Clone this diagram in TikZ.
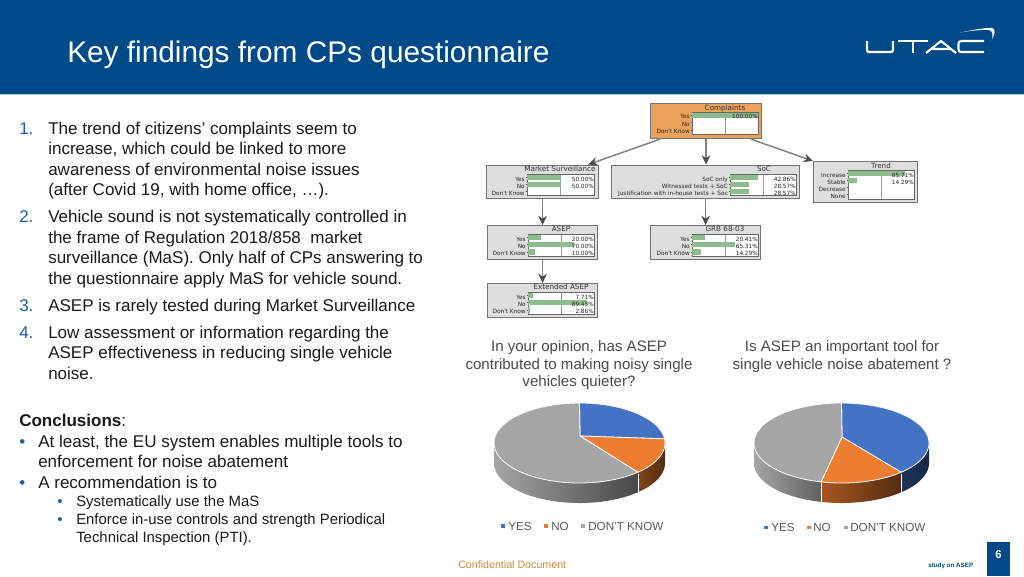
\documentclass[tikz,border=0pt]{standalone}
\usepackage{fontspec}
\setmainfont{Liberation Sans}
\newfontfamily\chartfont{DejaVu Sans}
\usetikzlibrary{arrows.meta,calc}
\definecolor{utacblue}{HTML}{004B87}
\definecolor{numblue}{HTML}{1F5F9E}
\definecolor{bodyink}{HTML}{1A1A1A}
\definecolor{qink}{HTML}{4A4A4A}
\definecolor{legink}{HTML}{595959}
\definecolor{barg}{HTML}{8FBC8F}
\definecolor{boxg}{HTML}{DEDEDE}
\definecolor{boxo}{HTML}{EBA35B}
\definecolor{confink}{HTML}{C98B3C}
\definecolor{pieb}{HTML}{4472C4}
\definecolor{pieo}{HTML}{ED7D31}
\definecolor{pieg}{HTML}{A5A5A5}
\definecolor{hline}{HTML}{A9C7DE}
\tikzset{
  x=0.75pt,y=-0.75pt,
  bl/.style={anchor=base west,text=bodyink,inner sep=0pt,font=\fontsize{12.77}{15}\selectfont},
  nm/.style={anchor=base west,text=numblue,inner sep=0pt,font=\fontsize{12.77}{15}\selectfont},
  bs/.style={anchor=base west,text=bodyink,inner sep=0pt,font=\fontsize{11.18}{13}\selectfont},
  qt/.style={anchor=base,text=qink,inner sep=0pt,font=\fontsize{11.3}{13}\selectfont},
  lg/.style={anchor=base west,text=legink,inner sep=0pt,font=\fontsize{8.75}{11}\selectfont},
  bnbox/.style={draw=black!55,line width=0.9pt,fill=boxg,rectangle,inner sep=0pt,anchor=north west},
  bnttl/.style={inner sep=0pt,anchor=base,font=\chartfont\fontsize{5.4}{6}\selectfont,text=black!80},
  bnlab/.style={inner sep=0pt,anchor=mid east,font=\chartfont\fontsize{4.35}{5}\selectfont,text=black!85},
  bnval/.style={inner sep=0pt,anchor=mid east,font=\chartfont\fontsize{4.3}{5}\selectfont,text=black!85},
  conn/.style={draw=black!50,line width=1.1pt,-{Stealth[length=7pt,width=6.5pt,color=black!70]}},
  pietop/.style={draw=white,line width=0.6pt},
}
% #1 name, #2 x, #3 y, #4 w, #5 h, #6 fill
\newcommand{\bnode}[6]{\node[bnbox,fill=#6,minimum width=#4*0.75pt,minimum height=#5*0.75pt] (#1) at (#2,#3) {};}
% plot area: #1 x0, #2 y0, #3 x1, #4 y1
\newcommand{\bnplot}[4]{\fill[white] (#1,#2) rectangle (#3,#4);
  \draw[black!40,line width=0.3pt] ({(#1+#3)/2},#2) -- ({(#1+#3)/2},#4);
  \draw[black!60,line width=0.4pt] (#1,#2) rectangle (#3,#4);}
% row: [#1 bar height], #2 x0, #3 x1, #4 yc, #5 label, #6 pct number (0 none)
\newcommand{\bnrow}[6][5.6]{%
  \fill[barg] (#2,{#4-#1/2}) rectangle ({#2+(#3-#2)*#6/100},{#4+#1/2});
  \node[bnlab] at ({#2-2},#4) {#5};
  \draw[black!70,line width=0.3pt] ({#2-1.5},#4)--(#2,#4);
  \ifdim #6pt>0pt \node[bnval] at (#3,#4) {#6\%}; \fi}
\newcommand{\pieslice}[9]{% fill, cx,cy,rx,ry, ax,ay, a0,a1
  \path[pietop,fill=#1] (#6,#7) -- plot[domain=#8:#9,samples=50] ({#2+#4*cos(\x)},{#3-#5*sin(\x)}) -- cycle;}
\begin{document}
\begin{tikzpicture}
\useasboundingbox (0,0) rectangle (1024,576);
\fill[white] (0,0) rectangle (1024,576);
% header
\fill[utacblue] (0,0) rectangle (1024,94);
\fill[hline] (0,94) rectangle (1024,95.2);
\node[anchor=base west,inner sep=0pt,text=white,font=\fontsize{22.36}{25}\selectfont] (title) at (67,62.5) {Key findings from CPs questionnaire};
% logo
\begin{scope}[draw=white,line width=1.6pt,line join=round]
\draw (867,41) -- (867,50) .. controls (867,52) and (868,52) .. (869,52) -- (890,52) .. controls (892,52) and (893,52) .. (893,50) -- (893,41);
\draw (898,41) -- (928,41) (913,41) -- (913,53);
\draw (926,53) -- (941,41) -- (956,53) (932,49) -- (950,49);
\draw (984,41) -- (962,41) .. controls (959,41) and (958.5,42) .. (958.5,44) -- (958.5,49) .. controls (958.5,51.5) and (959,52) .. (962,52) -- (984,52);
\end{scope}
\fill[white] (960,32.5) .. controls (975,29.5) and (986,27.5) .. (992,28) .. controls (996,29) and (995,34) .. (992,39) .. controls (993,35) and (993,31) .. (989,30) .. controls (983,29.5) and (972,30.5) .. (960,32.5) -- cycle;
% left text
\node[nm] (n1) at (19,134) {1.};
\node[bl] (t1a) at (48,134) {The trend of citizens’ complaints seem to};
\node[bl] (t1b) at (48,154.5) {increase, which could be linked to more};
\node[bl] (t1c) at (48,175) {awareness of environmental noise issues};
\node[bl] (t1d) at (48,195.5) {(after Covid 19, with home office, …).};
\node[nm] (n2) at (19,222.5) {2.};
\node[bl] (t2a) at (48,222.5) {Vehicle sound is not systematically controlled in};
\node[bl] (t2b) at (48,243) {the frame of Regulation 2018/858\ \ market};
\node[bl] (t2c) at (48,263.5) {surveillance (MaS). Only half of CPs answering to};
\node[bl] (t2d) at (48,284) {the questionnaire apply MaS for vehicle sound.};
\node[nm] (n3) at (19,311) {3.};
\node[bl] (t3a) at (48,311) {ASEP is rarely tested during Market Surveillance};
\node[nm] (n4) at (19,338) {4.};
\node[bl] (t4a) at (48,338) {Low assessment or information regarding the};
\node[bl] (t4b) at (48,358.5) {ASEP effectiveness in reducing single vehicle};
\node[bl] (t4c) at (48,379) {noise.};
\node[bl] (c0) at (19,426.5) {\textbf{Conclusions}:};
\node[nm] (b1) at (19,447) {•};
\node[bl] (c1a) at (38,447) {At least, the EU system enables multiple tools to};
\node[bl] (c1b) at (38,467.5) {enforcement for noise abatement};
\node[nm] (b2) at (19,488) {•};
\node[bl] (c2a) at (38,488) {A recommendation is to};
\node[bs,text=numblue] (b3) at (57,506) {•};
\node[bs] (c3) at (76,506) {Systematically use the MaS};
\node[bs,text=numblue] (b4) at (57,524) {•};
\node[bs] (c4a) at (76,524) {Enforce in-use controls and strength Periodical};
\node[bs] (c4b) at (76,542) {Technical Inspection (PTI).};
% BN boxes
\bnode{complaints}{650}{103}{111}{35}{boxo}
\bnode{market}{486}{164.5}{112}{33.5}{boxg}
\bnode{soc}{611}{164.5}{188}{33.5}{boxg}
\bnode{trend}{813}{161}{104}{41}{boxg}
\bnode{asep}{487}{225}{110}{34}{boxg}
\bnode{grb}{650}{225}{110}{34}{boxg}
\bnode{extasep}{487}{283}{110}{34}{boxg}
% connectors
\draw[conn] ($(complaints.south west)+(10,0)$) -- ($(market.north east)+(-11,0)$);
\draw[conn] (complaints.south) -- (soc.north -| complaints.south);
\draw[conn] ($(complaints.south east)+(-11,0)$) -- ($(trend.north west)+(0,0)$);
\draw[conn] (market.south -| asep.north) -- (asep.north);
\draw[conn] (soc.south -| grb.north) -- (grb.north);
\draw[conn] (asep.south) -- (extasep.north);
% complaints
\node[bnttl] (tc) at (725,110) {Complaints};
\bnplot{692}{112}{758}{134}
\bnrow[5]{692}{758}{115}{Yes}{100.00}
\bnrow[5]{692}{758}{122.5}{No}{0}
\bnrow[5]{692}{758}{130}{Don't Know}{0}
% market
\node[bnttl] (tm) at (560,171.5) {Market Surveillance};
\bnplot{527}{174.5}{594}{195}
\bnrow{527}{594}{177.5}{Yes}{50.00}
\bnrow{527}{594}{184.5}{No}{50.00}
\bnrow{527}{594}{191.5}{Don't Know}{0}
% soc
\node[bnttl] (ts) at (764,171.5) {SoC};
\bnplot{730}{174.5}{796}{195}
\bnrow{730}{796}{177.5}{SoC only}{42.86}
\bnrow{730}{796}{184.5}{Witnessed tests + SoC}{28.57}
\bnrow{730}{796}{191.5}{Justification with in-house tests + Soc}{28.57}
% trend
\node[bnttl] (tt) at (881,168) {Trend};
\bnplot{848}{170.5}{914}{199}
\bnrow{848}{914}{173.5}{Increase}{85.71}
\bnrow{848}{914}{180.5}{Stable}{14.29}
\bnrow{848}{914}{187.5}{Decrease}{0}
\bnrow{848}{914}{194.5}{None}{0}
% asep
\node[bnttl] (ta) at (561,231.5) {ASEP};
\bnplot{528}{234.5}{594}{256}
\bnrow{528}{594}{237.5}{Yes}{20.00}
\bnrow{528}{594}{244.5}{No}{70.00}
\bnrow{528}{594}{252}{Don't Know}{10.00}
% grb
\node[bnttl] (tg) at (725,231.5) {GRB 68-03};
\bnplot{692}{234.5}{758}{256}
\bnrow{692}{758}{237.5}{Yes}{20.41}
\bnrow{692}{758}{244.5}{No}{65.31}
\bnrow{692}{758}{252}{Don't Know}{14.29}
% extended
\node[bnttl] (te) at (561,289.5) {Extended ASEP};
\bnplot{528}{292.5}{594}{314}
\bnrow{528}{594}{295.5}{Yes}{7.71}
\bnrow{528}{594}{302.5}{No}{89.43}
\bnrow{528}{594}{310}{Don't Know}{2.86}
% questions
\node[qt] (q1a) at (579,351) {In your opinion, has ASEP};
\node[qt] (q1b) at (579,369) {contributed to making noisy single};
\node[qt] (q1c) at (579,386) {vehicles quieter?};
\node[qt] (q2a) at (842,351) {Is ASEP an important tool for};
\node[qt] (q2b) at (842,369) {single vehicle noise abatement ?};
% pie 1
\path[left color=pieg,right color=black!72,draw=none] plot[domain=180:313,samples=60] ({579.5+85.5*cos(\x)},{443-40*sin(\x)}) -- plot[domain=313:180,samples=60] ({579.5+85.5*cos(\x)},{463-40*sin(\x)}) -- cycle;
\path[left color=pieo!55!black,right color=pieo!35!black,draw=none] plot[domain=313:360,samples=30] ({579.5+85.5*cos(\x)},{443-40*sin(\x)}) -- plot[domain=360:313,samples=30] ({579.5+85.5*cos(\x)},{463-40*sin(\x)}) -- cycle;
\pieslice{pieb}{579.5}{443}{85.5}{40}{580}{436}{6}{90}
\pieslice{pieo}{579.5}{443}{85.5}{40}{580}{436}{-47}{6}
\pieslice{pieg}{579.5}{443}{85.5}{40}{580}{436}{90}{313}
\draw[white,line width=0.5pt] (638,473.5) -- (638,492);
% pie 2
\path[left color=pieg,right color=black!62,draw=none] plot[domain=180:256.5,samples=50] ({841.5+87.5*cos(\x)},{443-40*sin(\x)}) -- plot[domain=256.5:180,samples=50] ({841.5+87.5*cos(\x)},{463-40*sin(\x)}) -- cycle;
\path[left color=pieo!70!black,right color=pieo!35!black,draw=none] plot[domain=256.5:313,samples=40] ({841.5+87.5*cos(\x)},{443-40*sin(\x)}) -- plot[domain=313:256.5,samples=40] ({841.5+87.5*cos(\x)},{463-40*sin(\x)}) -- cycle;
\path[left color=pieb!45!black,right color=pieb!35!black,draw=none] plot[domain=313:360,samples=30] ({841.5+87.5*cos(\x)},{443-40*sin(\x)}) -- plot[domain=360:313,samples=30] ({841.5+87.5*cos(\x)},{463-40*sin(\x)}) -- cycle;
\pieslice{pieb}{841.5}{443}{87.5}{40}{842}{437}{-47}{90}
\pieslice{pieo}{841.5}{443}{87.5}{40}{842}{437}{-103.5}{-47}
\pieslice{pieg}{841.5}{443}{87.5}{40}{842}{437}{90}{256.5}
\draw[white,line width=0.5pt] (821,483) -- (821,502) (901,474) -- (901,493);
% legends
\fill[pieb] (501,524) rectangle (504.5,527.5);
\node[lg] (ly1) at (508,530) {YES};
\fill[pieo] (544,524) rectangle (547.5,527.5);
\node[lg] (ln1) at (551,530) {NO};
\fill[pieg] (581,524) rectangle (584.5,527.5);
\node[lg] (ld1) at (588,530) {DON'T KNOW};
\fill[pieb] (764,525.5) rectangle (767.5,529);
\node[lg] (ly2) at (771,531.5) {YES};
\fill[pieo] (807,525.5) rectangle (810.5,529);
\node[lg] (ln2) at (813,531.5) {NO};
\fill[pieg] (844,525.5) rectangle (847.5,529);
\node[lg] (ld2) at (850,531.5) {DON'T KNOW};
% footer
\node[anchor=base west,inner sep=0pt,text=confink,font=\fontsize{8}{10}\selectfont] (conf) at (458,568) {Confidential Document};
\node[anchor=base west,inner sep=0pt,text=utacblue,font=\bfseries\fontsize{4.7}{6}\selectfont] (study) at (928,567) {study on ASEP};
\fill[utacblue] (987,542) rectangle (1010,576);
\node[anchor=base,inner sep=0pt,text=white,font=\bfseries\fontsize{8.5}{10}\selectfont] (pg) at (998.5,558) {6};
\end{tikzpicture}
\end{document}
